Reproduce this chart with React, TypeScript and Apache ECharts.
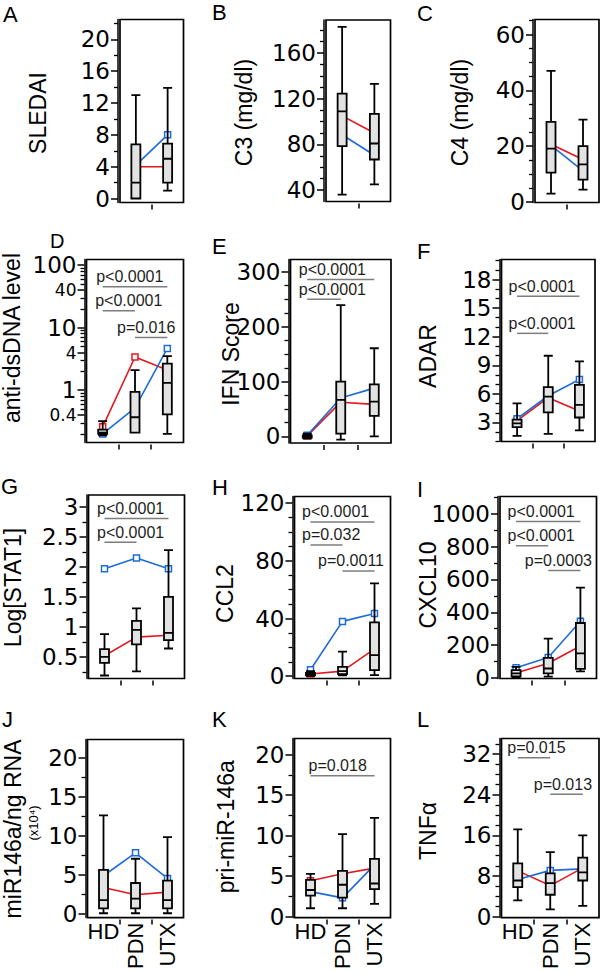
import React, { useEffect, useRef } from "react";
import * as echarts from "echarts";

// ---------- categories ----------
const CATS3 = ["HD", "PDN", "UTX"];
const CATS2 = ["PDN", "UTX"];

// ---------- data: box = [min, Q1, median, Q3, max] ----------
// A SLEDAI
const A_BOX = [[0, 0, 2, 6.8, 13], [1, 2, 5, 6.9, 13.9]];
const A_RED = [4, 4];
const A_BLUE = [4.2, 8];
const A_TICKS = [0, 4, 8, 12, 16, 20];
// B C3
const B_BOX = [[36, 78.5, 109, 124.5, 183], [45, 66.8, 80.8, 106.7, 133]];
const B_RED = [105, 90];
const B_BLUE = [88.5, 70.5];
const B_TICKS = [40, 80, 120, 160];
// C C4
const C_BOX = [[3, 10.5, 19.1, 28.7, 47], [4.4, 8, 13.5, 20, 29.5]];
const C_RED = [20.7, 15.2];
const C_BLUE = [20.3, 11.1];
const C_TICKS = [0, 20, 40, 60];
// D anti-dsDNA (log)
const D_BOX = [[0.19, 0.2, 0.21, 0.235, 0.32], [0.21, 0.21, 0.37, 0.94, 2.09], [0.2, 0.41, 1.31, 2.67, 3.5]];
const D_RED = [0.26, 3.4, 2.1];
const D_BLUE = [0.2, 0.52, 4.65];
const D_TICKS = [0.4, 1, 4, 10, 40, 100];
const D_SMALL = [0.4, 4, 40];
// E IFN score
const E_BOX = [[-4, -2, 0, 2, 5], [-6, 5, 66.7, 100, 239.5], [0, 37.6, 63.6, 95, 160.7]];
const E_RED = [1, 62.4, 58.4];
const E_BLUE = [2, 70, 88];
const E_TICKS = [0, 100, 200, 300];
// F ADAR
const F_BOX = [[1.6, 2.5, 2.9, 3.3, 5.0], [1.8, 4.05, 5.7, 6.7, 10.0], [2.16, 3.52, 4.85, 6.94, 9.4]];
const F_RED = [3.2, 5.6, 4.2];
const F_BLUE = [3.4, 5.8, 7.5];
const F_TICKS = [3, 6, 9, 12, 15, 18];
// G Log[STAT1]
const G_BOX = [[0.19, 0.4, 0.5, 0.63, 0.88], [0.26, 0.71, 0.95, 1.1, 1.31], [0.64, 0.78, 0.9, 1.5, 2.28]];
const G_RED = [0.52, 0.83, 0.86];
const G_BLUE = [1.97, 2.15, 1.97];
const G_TICKS = [0.5, 1, 1.5, 2, 2.5, 3];
// H CCL2
const H_BOX = [[0, 0.5, 1.2, 2.2, 3.5], [0.5, 1.5, 3.5, 6.5, 17], [0.7, 4.2, 14.6, 37.3, 64.4]];
const H_RED = [1.5, 3.5, 19];
const H_BLUE = [4.5, 38, 43.5];
const H_TICKS = [0, 40, 80, 120];
// I CXCL10
const I_BOX = [[5, 10, 28, 48, 68], [8, 28, 58, 122, 240], [40, 55, 150, 335, 550]];
const I_RED = [30, 90, 195];
const I_BLUE = [62, 125, 345];
const I_TICKS = [0, 200, 400, 600, 800, 1000];
// J miR146a
const J_BOX = [[0.08, 0.7, 1.76, 5.66, 12.65], [0.08, 0.7, 1.96, 3.97, 7.08], [0.08, 0.7, 1.76, 4.28, 9.85]];
const J_RED = [3.4, 2.45, 2.8];
const J_BLUE = [4.9, 7.84, 4.55];
const J_TICKS = [0, 5, 10, 15, 20];
// K pri-miR-146a
const K_BOX = [[1.05, 2.6, 3.3, 4.55, 5.3], [1.05, 2.35, 3.95, 5.65, 10.2], [1.6, 3.4, 4.1, 7.15, 12.2]];
const K_RED = [4.45, 5.3, 6.0];
const K_BLUE = [3.1, 2.33, 6.4];
const K_TICKS = [0, 5, 10, 15, 20];
// L TNFa
const L_BOX = [[3.2, 5.8, 7.1, 10.5, 17.2], [1.4, 4.3, 6.6, 8.5, 12.7], [2.1, 7.1, 8.7, 11.6, 16.0]];
const L_RED = [9.0, 6.1, 9.6];
const L_BLUE = [7.3, 9.1, 9.4];
const L_TICKS = [0, 8, 16, 24, 32];

// ---------- p-value annotations: from/to category index, y level ----------
type Ann = { from: number; to: number; y: number; label: string; dx: number };
const D_ANN: Ann[] = [
  { from: 0, to: 2, y: 45, label: "p<0.0001", dx: -6.5 },
  { from: 0, to: 1, y: 18.6, label: "p<0.0001", dx: -7.5 },
  { from: 1, to: 2, y: 6.96, label: "p=0.016", dx: -18 },
];
const E_ANN: Ann[] = [
  { from: 0, to: 2, y: 286, label: "p<0.0001", dx: -8.5 },
  { from: 0, to: 1, y: 250, label: "p<0.0001", dx: -8.5 },
];
const F_ANN: Ann[] = [
  { from: 0, to: 2, y: 16.25, label: "p<0.0001", dx: -8.5 },
  { from: 0, to: 1, y: 12.35, label: "p<0.0001", dx: -8.5 },
];
const G_ANN: Ann[] = [
  { from: 0, to: 2, y: 2.81, label: "p<0.0001", dx: -7.5 },
  { from: 0, to: 1, y: 2.41, label: "p<0.0001", dx: -7.5 },
];
const H_ANN: Ann[] = [
  { from: 0, to: 2, y: 107, label: "p<0.0001", dx: -8.5 },
  { from: 0, to: 1, y: 91, label: "p=0.032", dx: -8.5 },
  { from: 1, to: 2, y: 73, label: "p=0.0011", dx: -24.5 },
];
const I_ANN: Ann[] = [
  { from: 0, to: 2, y: 953, label: "p<0.0001", dx: -8.5 },
  { from: 0, to: 1, y: 805, label: "p<0.0001", dx: -8.5 },
  { from: 1, to: 2, y: 655, label: "p=0.0003", dx: -23.5 },
];
const K_ANN: Ann[] = [{ from: 0, to: 2, y: 17.4, label: "p=0.018", dx: -2 }];
const L_ANN: Ann[] = [
  { from: 0, to: 1, y: 31.3, label: "p=0.015", dx: -10.5 },
  { from: 1, to: 2, y: 24.1, label: "p=0.013", dx: -16.5 },
];

// ---------- helpers ----------
function steps(a: number, b: number, s: number): number[] {
  const out: number[] = [];
  for (let v = a; v <= b + 1e-9; v += s) out.push(Math.round(v * 1000) / 1000);
  return out;
}
function minorOf(all: number[], major: number[]): number[] {
  return all.filter((v) => !major.some((m) => Math.abs(m - v) < 1e-9));
}
const D_MINOR = minorOf([...steps(0.2, 0.9, 0.1), ...steps(2, 9, 1), ...steps(20, 90, 10)], D_TICKS);

interface Panel {
  letter: string;
  title: string;
  cats: string[];
  box: number[][];
  red: number[];
  blue: number[];
  yMin: number;
  yMax: number;
  log?: boolean;
  major: number[];
  minor: number[];
  small?: number[];
  ann: Ann[];
  bottom: boolean;
}

const PANELS: Panel[] = [
  { letter: "A", title: "SLEDAI", cats: CATS2, box: A_BOX, red: A_RED, blue: A_BLUE, yMin: -0.5, yMax: 22.5, major: A_TICKS, minor: minorOf(steps(0, 22, 2), A_TICKS), ann: [], bottom: false },
  { letter: "B", title: "C3 (mg/dl)", cats: CATS2, box: B_BOX, red: B_RED, blue: B_BLUE, yMin: 30, yMax: 189, major: B_TICKS, minor: minorOf(steps(40, 180, 10), B_TICKS), ann: [], bottom: false },
  { letter: "C", title: "C4 (mg/dl)", cats: CATS2, box: C_BOX, red: C_RED, blue: C_BLUE, yMin: -0.2, yMax: 65.4, major: C_TICKS, minor: minorOf(steps(0, 65, 5), C_TICKS), ann: [], bottom: false },
  { letter: "D", title: "anti-dsDNA level", cats: CATS3, box: D_BOX, red: D_RED, blue: D_BLUE, yMin: 0.146, yMax: 123, log: true, major: D_TICKS, minor: D_MINOR, small: D_SMALL, ann: D_ANN, bottom: false },
  { letter: "E", title: "IFN Score", cats: CATS3, box: E_BOX, red: E_RED, blue: E_BLUE, yMin: -12, yMax: 322.5, major: E_TICKS, minor: minorOf(steps(0, 300, 25), E_TICKS), ann: E_ANN, bottom: false },
  { letter: "F", title: "ADAR", cats: CATS3, box: F_BOX, red: F_RED, blue: F_BLUE, yMin: 1.0, yMax: 20.1, major: F_TICKS, minor: minorOf(steps(1, 20, 1), F_TICKS), ann: F_ANN, bottom: false },
  { letter: "G", title: "Log[STAT1]", cats: CATS3, box: G_BOX, red: G_RED, blue: G_BLUE, yMin: 0.14, yMax: 3.2, major: G_TICKS, minor: minorOf(steps(0.25, 3, 0.25), G_TICKS), ann: G_ANN, bottom: false },
  { letter: "H", title: "CCL2", cats: CATS3, box: H_BOX, red: H_RED, blue: H_BLUE, yMin: -1.6, yMax: 124.6, major: H_TICKS, minor: minorOf(steps(0, 120, 10), H_TICKS), ann: H_ANN, bottom: false },
  { letter: "I", title: "CXCL10", cats: CATS3, box: I_BOX, red: I_RED, blue: I_BLUE, yMin: -3, yMax: 1105, major: I_TICKS, minor: minorOf(steps(0, 1100, 100), I_TICKS), ann: I_ANN, bottom: false },
  { letter: "J", title: "miR146a/ng RNA", cats: CATS3, box: J_BOX, red: J_RED, blue: J_BLUE, yMin: -0.47, yMax: 22.4, major: J_TICKS, minor: minorOf(steps(0, 20, 2.5), J_TICKS), ann: [], bottom: true },
  { letter: "K", title: "pri-miR-146a", cats: CATS3, box: K_BOX, red: K_RED, blue: K_BLUE, yMin: -0.1, yMax: 22, major: K_TICKS, minor: minorOf(steps(0, 20, 2.5), K_TICKS), ann: K_ANN, bottom: true },
  { letter: "L", title: "TNFα", cats: CATS3, box: L_BOX, red: L_RED, blue: L_BLUE, yMin: -0.2, yMax: 35.1, major: L_TICKS, minor: minorOf(steps(0, 34, 2), L_TICKS), ann: L_ANN, bottom: true },
];

// ---------- layout (pixels) ----------
const LAYOUT: number[][] = [
  [120, 19.5, 183.5, 202.5],
  [326, 20, 390.5, 201.5],
  [535, 19.5, 599, 202.5],
  [86.5, 259.5, 183.5, 442.5],
  [290.5, 259.5, 391, 443],
  [501.5, 259.5, 595, 441.5],
  [88.5, 495, 184.5, 678.5],
  [294.5, 496.5, 390.5, 678.5],
  [500, 496.5, 596.5, 678.5],
  [87.5, 739.5, 183.5, 921],
  [294.5, 738.5, 390.5, 921],
  [501.5, 738.5, 599, 921],
];
const LETTER_POS: number[][] = [
  [3, 14], [212, 12.5], [417, 13],
  [50, 240.5], [212, 246.5], [417, 251],
  [1, 486.5], [212, 487.5], [417, 489],
  [2, 719.5], [212, 719], [417, 719.5],
];
const TITLE_POS: number[][] = [
  [37.5, 113], [243.5, 112.5], [459.5, 112.5],
  [12, 338], [230.8, 354], [427.5, 356],
  [12.5, 587.5], [225, 593.5], [428.3, 585],
  [12.5, 829], [225.5, 826.7], [427.5, 831],
];

const FONT = "'Liberation Sans', Arial, Helvetica, sans-serif";
const TICKFONT = "'DejaVu Sans', 'Liberation Sans', sans-serif";
const RED = "#e5161e";
const BLUE = "#1d6bd9";
const TICK_SIZE = 23;
const TITLE_SIZE = 23;

function buildOption() {
  const grid: any[] = [];
  const xAxis: any[] = [];
  const yAxis: any[] = [];
  const series: any[] = [];
  const graphic: any[] = [];

  PANELS.forEach((p, i) => {
    const [l, t, r, b] = LAYOUT[i];
    grid.push({
      left: l, top: t, width: r - l, height: b - t,
      show: true, borderColor: "#000", borderWidth: 1.7, backgroundColor: "transparent",
    });
    const n = p.cats.length;

    const xCat = xAxis.length;
    xAxis.push({
      type: "category", gridIndex: i, position: "bottom", data: p.cats, boundaryGap: true,
      axisLine: { show: false, onZero: false }, axisTick: { show: false }, splitLine: { show: false },
      axisLabel: p.bottom
        ? { show: true, interval: 0, margin: 3, fontSize: 22, fontFamily: FONT, color: "#000",
            formatter: (v: string) => (v === "HD" ? v : "") }
        : { show: false },
    });
    xAxis.push({
      type: "value", gridIndex: i, position: "bottom", min: 0, max: n, offset: 2,
      axisLine: { show: false, onZero: false }, splitLine: { show: false }, axisLabel: { show: false },
      axisTick: { show: true, length: 5, customValues: steps(1, n - 1, 1), lineStyle: { color: "#000", width: 1.5 } },
    });
    if (p.bottom) {
      xAxis.push({
        type: "category", gridIndex: i, position: "bottom", data: p.cats, boundaryGap: true,
        axisLine: { show: false, onZero: false }, axisTick: { show: false }, splitLine: { show: false },
        axisLabel: { show: true, interval: 0, rotate: 90, margin: 5, fontSize: 22, fontFamily: FONT, color: "#000",
          formatter: (v: string) => (v === "HD" ? "" : v) },
      });
    }

    const yType = p.log ? "log" : "value";
    const yi = yAxis.length;
    const small = p.small || [];
    yAxis.push({
      type: yType, logBase: 10, gridIndex: i, position: "left", min: p.yMin, max: p.yMax, offset: 2,
      axisLine: { show: true, onZero: false, lineStyle: { color: "#000", width: 1.5 } },
      axisTick: { show: true, length: 7, customValues: p.major, lineStyle: { color: "#000", width: 1.5 } },
      splitLine: { show: false },
      axisLabel: {
        show: true, customValues: p.major, margin: 8, fontSize: TICK_SIZE, fontFamily: TICKFONT, color: "#000",
        formatter: p.log
          ? (v: number) => {
              const s = String(+Number(v).toPrecision(6));
              return small.some((m) => Math.abs(m - v) < 1e-6) ? `{s|${s}}` : `{b|${s}}`;
            }
          : (v: number) => String(+Number(v).toPrecision(6)),
        rich: {
          s: { fontSize: 17, fontFamily: TICKFONT, color: "#000" },
          b: { fontSize: TICK_SIZE, fontFamily: TICKFONT, color: "#000" },
        },
      },
    });
    yAxis.push({
      type: yType, logBase: 10, gridIndex: i, position: "left", min: p.yMin, max: p.yMax, offset: 2,
      axisLine: { show: false, onZero: false }, splitLine: { show: false }, axisLabel: { show: false },
      axisTick: { show: true, length: 4, customValues: p.minor, lineStyle: { color: "#000", width: 1.3 } },
    });

    const lineSeries = (data: number[], color: string) => ({
      type: "line", xAxisIndex: xCat, yAxisIndex: yi, data, z: 2,
      symbol: "rect", symbolSize: 6, showSymbol: true, showAllSymbol: true,
      lineStyle: { color, width: 1.6 },
      itemStyle: { color: "#ffffff", borderColor: color, borderWidth: 1.5 },
      emphasis: { disabled: true }, silent: true,
    });
    series.push(lineSeries(p.red, RED));
    series.push(lineSeries(p.blue, BLUE));
    series.push({
      type: "boxplot", xAxisIndex: xCat, yAxisIndex: yi, data: p.box, z: 3,
      boxWidth: [9, 9],
      itemStyle: { color: "#e2e2e2", borderColor: "#000", borderWidth: 1.8 },
      emphasis: { disabled: true }, silent: true,
    });
    if (p.ann.length) {
      const anns = p.ann;
      series.push({
        type: "custom", xAxisIndex: xCat, yAxisIndex: yi, z: 4, silent: true,
        data: anns.map((a) => [a.from, a.to, a.y]),
        encode: { x: [0, 1], y: 2 },
        renderItem: (params: any, api: any) => {
          const a = anns[params.dataIndex];
          const p1 = api.coord([api.value(0), api.value(2)]);
          const p2 = api.coord([api.value(1), api.value(2)]);
          return {
            type: "group",
            children: [
              { type: "line", shape: { x1: p1[0], y1: p1[1], x2: p2[0], y2: p2[1] },
                style: { stroke: "#7d7d7d", lineWidth: 1.5 } },
              { type: "text", x: p1[0] + a.dx, y: p1[1] - 10,
                style: { text: a.label, fontSize: 16, fontFamily: FONT, fill: "#1e1e1e",
                  align: "left", verticalAlign: "middle" } },
            ],
          };
        },
      });
    }

    const [lx, ly] = LETTER_POS[i];
    graphic.push({
      type: "text", x: lx, y: ly, silent: true,
      style: { text: p.letter, fontSize: i === 3 ? 20 : 22, fontFamily: FONT, fill: "#000", align: "left", verticalAlign: "middle" },
    });
    const [tx, ty] = TITLE_POS[i];
    graphic.push({
      type: "text", x: tx, y: ty, rotation: Math.PI / 2, silent: true,
      style: { text: p.title, fontSize: TITLE_SIZE, fontFamily: FONT, fill: "#000", align: "center", verticalAlign: "middle" },
    });
  });

  graphic.push({
    type: "text", x: 33, y: 823, rotation: Math.PI / 2, silent: true,
    style: { text: "(x10⁴)", fontSize: 13, fontFamily: FONT, fill: "#000", align: "center", verticalAlign: "middle" },
  });

  return {
    animation: false,
    backgroundColor: "#ffffff",
    grid, xAxis, yAxis, series, graphic,
  };
}

export default function App() {
  const ref = useRef<HTMLDivElement>(null);
  useEffect(() => {
    if (!ref.current) return;
    const chart = echarts.init(ref.current, undefined, { renderer: "svg" });
    chart.setOption(buildOption() as any);
    return () => chart.dispose();
  }, []);
  return (
    <div
      ref={ref}
      style={{ position: "absolute", left: 0, top: 0, width: 600, height: 972, background: "#fff" }}
    />
  );
}
